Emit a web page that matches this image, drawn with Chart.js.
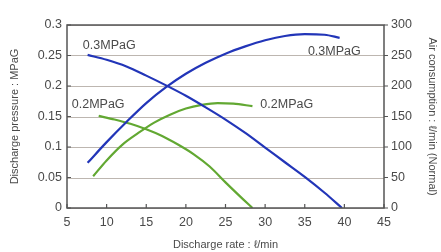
<!DOCTYPE html>
<html>
<head>
<meta charset="utf-8">
<script src="https://cdn.jsdelivr.net/npm/chart.js@4/dist/chart.umd.min.js"></script>
<style>
    html, body { margin: 0; padding: 0; background: #fff; }
    #wrap { width: 441px; height: 252px; }
</style>
</head>
<body>
<div id="wrap"><canvas id="pumpChart" width="441" height="252"></canvas></div>
<script>
// Discharge rate (l/min) and readings for each curve
const rate03p = [7.6, 10, 12.5, 15, 17.5, 20, 22.5, 25, 27.5, 30, 32.5, 35, 37.5, 39.7];
const pressure03 = [0.251, 0.243, 0.232, 0.217, 0.201, 0.184, 0.165, 0.145, 0.123, 0.099, 0.075, 0.051, 0.025, 0];

const rate03a = [7.6, 10, 12.5, 15, 17.5, 20, 22.5, 25, 27.5, 30, 32.5, 35, 37.5, 39.4];
const air03 = [74, 108, 141, 172, 198, 220, 238, 253, 265, 275, 282, 285, 284, 279];

const rate02p = [9, 11, 13, 15, 17, 19, 21, 23, 25, 27, 28.4];
const pressure02 = [0.151, 0.145, 0.138, 0.129, 0.118, 0.104, 0.088, 0.068, 0.042, 0.017, 0];

const rate02a = [8.3, 10, 12, 14, 16, 18, 20, 22, 24, 26, 28.4];
const air02 = [52, 78, 104, 123, 140, 153, 163, 169, 172, 171, 167];

const xTicks = [5, 10, 15, 20, 25, 30, 35, 40, 45];
const pressureTicks = [0, 0.05, 0.1, 0.15, 0.2, 0.25, 0.3];
const airTicks = [0, 50, 100, 150, 200, 250, 300];

// curve labels: [text, x, y, axis]
const curveLabels = [
    ['0.3MPaG', 7.0, 0.267, 'y'],
    ['0.3MPaG', 35.4, 256, 'y2'],
    ['0.2MPaG', 5.6, 0.170, 'y'],
    ['0.2MPaG', 29.4, 170, 'y2']
];

const BLUE = '#2235b8';
const GREEN = '#62a832';
const TEXT = '#4a4a4a';
const FONT = '"Liberation Sans", Arial, sans-serif';

function toPoints(xs, ys) {
    return xs.map((x, i) => ({ x: x, y: ys[i] }));
}

function curve(xs, ys, color, axis) {
    return {
        data: toPoints(xs, ys),
        borderColor: color,
        borderWidth: 2.2,
        pointRadius: 0,
        cubicInterpolationMode: 'monotone',
        yAxisID: axis,
        fill: false
    };
}

// horizontal grid lines under the curves
const gridPlugin = {
    id: 'hgrid',
    beforeDatasetsDraw(chart) {
        const ctx = chart.ctx;
        const area = chart.chartArea;
        const sy = chart.scales.y;
        ctx.save();
        ctx.strokeStyle = '#bdb6b0';
        ctx.lineWidth = 1;
        ctx.beginPath();
        pressureTicks.forEach(v => {
            const py = Math.round(sy.getPixelForValue(v)) + 0.5;
            ctx.moveTo(area.left, py);
            ctx.lineTo(area.right, py);
        });
        ctx.stroke();
        ctx.restore();
    }
};

// frame, inner tick marks and curve labels
const decorPlugin = {
    id: 'decor',
    afterDatasetsDraw(chart) {
        const ctx = chart.ctx;
        const area = chart.chartArea;
        const sx = chart.scales.x, sy = chart.scales.y, sy2 = chart.scales.y2;
        ctx.save();
        ctx.strokeStyle = '#555';
        ctx.lineWidth = 1.5;
        ctx.strokeRect(area.left, area.top, area.right - area.left, area.bottom - area.top);
        ctx.lineWidth = 1.2;
        ctx.beginPath();
        xTicks.forEach(v => {
            const px = sx.getPixelForValue(v);
            ctx.moveTo(px, area.bottom);
            ctx.lineTo(px, area.bottom - 4);
        });
        pressureTicks.forEach(v => {
            const py = sy.getPixelForValue(v);
            ctx.moveTo(area.left, py);
            ctx.lineTo(area.left + 4, py);
        });
        airTicks.forEach(v => {
            const py = sy2.getPixelForValue(v);
            ctx.moveTo(area.right, py);
            ctx.lineTo(area.right + 4, py);
        });
        ctx.stroke();

        ctx.fillStyle = TEXT;
        ctx.font = '12.5px ' + FONT;
        ctx.textBaseline = 'middle';
        ctx.textAlign = 'left';
        curveLabels.forEach(l => {
            const ys = chart.scales[l[3]];
            ctx.fillText(l[0], sx.getPixelForValue(l[1]), ys.getPixelForValue(l[2]));
        });
        ctx.restore();
    }
};

Chart.defaults.font.family = FONT;
Chart.defaults.color = TEXT;

new Chart(document.getElementById('pumpChart'), {
    type: 'line',
    data: {
        datasets: [
            curve(rate03p, pressure03, BLUE, 'y'),
            curve(rate03a, air03, BLUE, 'y2'),
            curve(rate02p, pressure02, GREEN, 'y'),
            curve(rate02a, air02, GREEN, 'y2')
        ]
    },
    options: {
        responsive: false,
        animation: false,
        layout: { padding: { top: 25, left: 8, right: 2, bottom: 0 } },
        plugins: {
            legend: { display: false },
            tooltip: { enabled: false }
        },
        scales: {
            x: {
                type: 'linear',
                min: 5,
                max: 45,
                afterBuildTicks: s => { s.ticks = xTicks.map(v => ({ value: v })); },
                afterFit: s => { s.height = 44; },
                grid: { display: false, drawTicks: false },
                border: { display: false },
                ticks: { font: { size: 12.5 }, padding: 7 },
                title: {
                    display: true,
                    text: 'Discharge rate : ℓ/min',
                    font: { size: 11 },
                    padding: { top: 3, bottom: 0 }
                }
            },
            y: {
                position: 'left',
                min: 0,
                max: 0.3,
                afterBuildTicks: s => { s.ticks = pressureTicks.map(v => ({ value: v })); },
                afterFit: s => { s.width = 59; },
                grid: { display: false, drawTicks: false },
                border: { display: false },
                ticks: {
                    font: { size: 12.5 },
                    padding: 5,
                    callback: v => String(parseFloat(v.toFixed(2)))
                },
                title: {
                    display: true,
                    text: 'Discharge pressure : MPaG',
                    font: { size: 11 },
                    padding: { top: 0, bottom: 2 }
                }
            },
            y2: {
                position: 'right',
                min: 0,
                max: 300,
                afterBuildTicks: s => { s.ticks = airTicks.map(v => ({ value: v })); },
                afterFit: s => { s.width = 55; },
                grid: { display: false, drawTicks: false },
                border: { display: false },
                ticks: { font: { size: 12.5 }, padding: 7 },
                title: {
                    display: true,
                    text: 'Air consumption : ℓ/min (Normal)',
                    font: { size: 11 },
                    padding: { top: 0, bottom: 4 }
                }
            }
        }
    },
    plugins: [gridPlugin, decorPlugin]
});
</script>
</body>
</html>
